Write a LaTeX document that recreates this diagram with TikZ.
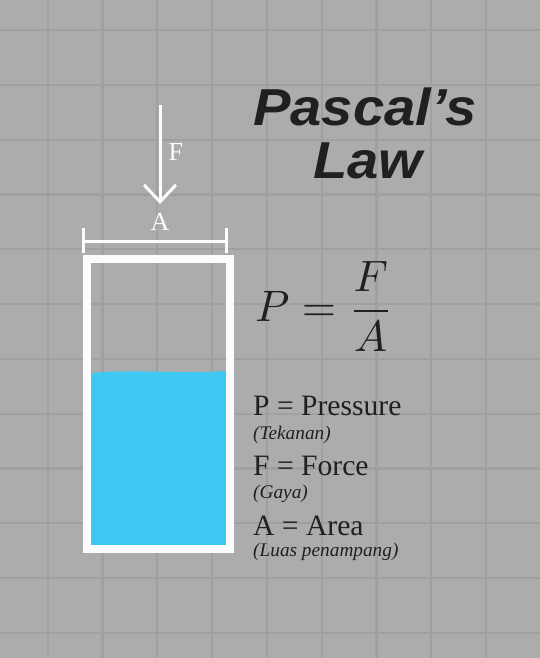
\documentclass[tikz,border=0pt]{standalone}
\usepackage{fontspec}
\newfontfamily\titlefont{Liberation Sans}
\newfontfamily\timesfont{Liberation Serif}
\usetikzlibrary{arrows.meta}
\definecolor{bggray}{RGB}{172,172,172}
\definecolor{gridgray}{RGB}{160,160,160}
\definecolor{water}{RGB}{64,200,245}
\definecolor{ink}{RGB}{32,32,32}
\definecolor{chalk}{RGB}{252,252,252}
\tikzset{
  gridline/.style={draw=gridgray,line width=2.2pt},
  chalkline/.style={draw=chalk,line width=3pt},
  labeltext/.style={text=chalk,inner sep=0pt,font=\timesfont\fontsize{26}{30}\selectfont},
  deftext/.style={text=ink,inner sep=0pt,anchor=base west,font=\timesfont\fontsize{29.6}{32}\selectfont},
  subtext/.style={text=ink,inner sep=0pt,anchor=base west,font=\timesfont\fontsize{19.3}{22}\selectfont\itshape},
  titletext/.style={text=ink,inner sep=0pt,anchor=base,font=\fontsize{52}{56}\selectfont\titlefont\bfseries\itshape},
}
\begin{document}
\begin{tikzpicture}[x=1pt,y=-1pt]
  \fill[bggray] (0,0) rectangle (540,658);
  \useasboundingbox (0,0) rectangle (540,658);
  % grid
  \foreach \i in {1,...,10} {
    \draw[gridline] ({-7.1+54.8*\i},0) -- ++(0,658);
  }
  \foreach \j in {1,...,12} {
    \draw[gridline] (0,{-24.8+54.8*\j}) -- ++(540,0);
  }
  % water
  \fill[water] (91,545) -- (91,373) .. controls (130,369) and (175,374) .. (226,371) -- (226,545) -- cycle;
  % container
  \draw[draw=chalk,line width=8pt] (87,259) rectangle (229.5,549);
  % dimension line for area
  \coordinate (dimL) at (83,241.5);
  \coordinate (dimR) at (226,241.5);
  \draw[chalkline,line width=3.5pt] (dimL) -- (dimR);
  \draw[chalkline] (83,228) -- (83,253);
  \draw[chalkline] (226,228) -- (226,253);
  % force arrow
  \coordinate (ftop) at (160,105);
  \coordinate (ftip) at (160,204);
  \draw[chalkline,-{Straight Barb[length=17pt,width=32pt,line width=3pt]}] (ftop) -- (ftip);
  \node[labeltext,anchor=base west] (Flabel) at (168.5,160) {F};
  \node[labeltext,anchor=base] (Alabel) at (160,230) {A};
  % title
  \node[titletext] (title1) at (365,125) {\scalebox{1.08}[1]{Pascal’s}};
  \node[titletext] (title2) at (368,178) {\scalebox{1.08}[1]{Law}};
  % formula
  \node[text=ink,inner sep=0pt,anchor=base west] (formula) at (255,321.7) {\scalebox{4.4}{$\displaystyle P=\frac{F}{A}$}};
  % definitions
  \node[deftext] (defP) at (253,415) {P = Pressure};
  \node[subtext] (subP) at (253,439.3) {(Tekanan)};
  \node[deftext] (defF) at (253,475) {F = Force};
  \node[subtext] (subF) at (253,498.3) {(Gaya)};
  \node[deftext] (defA) at (253,535) {A = Area};
  \node[subtext] (subA) at (253,556) {(Luas penampang)};
\end{tikzpicture}
\end{document}
